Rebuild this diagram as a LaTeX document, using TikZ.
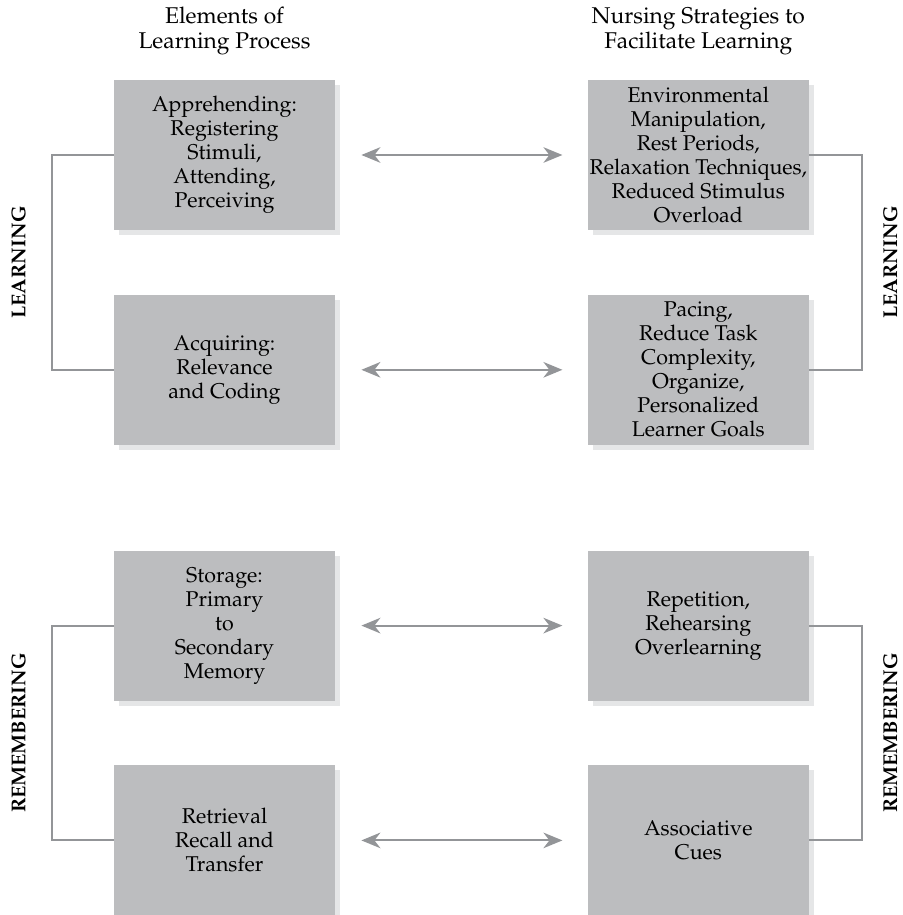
\documentclass[tikz,border=0pt]{standalone}
\usepackage[T1]{fontenc}
\usepackage{mathpazo}
\usetikzlibrary{positioning,arrows.meta,shadows,calc}

\definecolor{boxgray}{RGB}{188,189,191}
\definecolor{linegray}{RGB}{147,149,152}
\definecolor{shadegray}{RGB}{229,230,231}

\begin{document}
\begin{tikzpicture}[node distance=32pt and 126pt,
  >={Stealth[length=9.5pt, width=7.8pt, inset=3pt]},
  stage/.style={rectangle, fill=boxgray, minimum width=110.5pt, minimum height=75pt,
    align=center, inner sep=0.5pt, font=\fontsize{10.7}{12}\selectfont,
    general shadow={fill=shadegray, shadow xshift=2.5pt, shadow yshift=-2.5pt}},
  head/.style={align=center, font=\fontsize{11.4}{12.5}\selectfont},
  side/.style={rotate=90, inner sep=0pt, font=\fontsize{10}{12}\selectfont\bfseries},
  link/.style={draw=linegray, line width=1pt},
  duo/.style={link, <->, shorten <=13pt, shorten >=12.5pt}]
  \useasboundingbox (0,0) rectangle (451.5pt,-457.5pt);

  % left column: elements of learning
  \node[stage] (app) at (112.25pt,-77.5pt) {Apprehending:\\Registering\\Stimuli,\\Attending,\\Perceiving};
  \node[stage, below=of app] (acq) {Acquiring:\\Relevance\\and Coding};
  \node[stage, below=52.5pt of acq] (sto) {Storage:\\Primary\\to\\Secondary\\Memory};
  \node[stage, below=of sto] (ret) {Retrieval\\Recall and\\Transfer};

  % right column: nursing strategies
  \node[stage, right=of app] (env) {Environmental\\Manipulation,\\Rest Periods,\\Relaxation Techniques,\\Reduced Stimulus\\Overload};
  \node[stage, right=of acq] (pac) {Pacing,\\Reduce Task\\Complexity,\\Organize,\\Personalized\\Learner Goals};
  \node[stage, right=of sto] (rep) {Repetition,\\Rehearsing\\Overlearning};
  \node[stage, right=of ret] (cue) {Associative\\Cues};

  \node[head, above=9pt of app] (hl) {Elements of\\Learning Process};
  \node[head, above=9pt of env] (hr) {Nursing Strategies to\\Facilitate Learning};

  \draw[duo] (app) -- (env);
  \draw[duo] (acq) -- (pac);
  \draw[duo] (sto) -- (rep);
  \draw[duo] (ret) -- (cue);

  % brackets
  \draw[link] (app.west) -- ++(-31pt,0) |- (acq.west);
  \draw[link] (sto.west) -- ++(-31pt,0) |- (ret.west);
  \draw[link] (env.east) -- ++(26.5pt,0) |- (pac.east);
  \draw[link] (rep.east) -- ++(26.5pt,0) |- (cue.east);

  \node[side] (ll) at ([xshift=-47.5pt]$(app.west)!0.5!(acq.west)$) {LEARNING};
  \node[side] (lr) at ([xshift=40.5pt]$(env.east)!0.5!(pac.east)$) {LEARNING};
  \node[side] (rl) at ([xshift=-47.5pt]$(sto.west)!0.5!(ret.west)$) {REMEMBERING};
  \node[side] (rr) at ([xshift=40.5pt]$(rep.east)!0.5!(cue.east)$) {REMEMBERING};
\end{tikzpicture}
\end{document}
